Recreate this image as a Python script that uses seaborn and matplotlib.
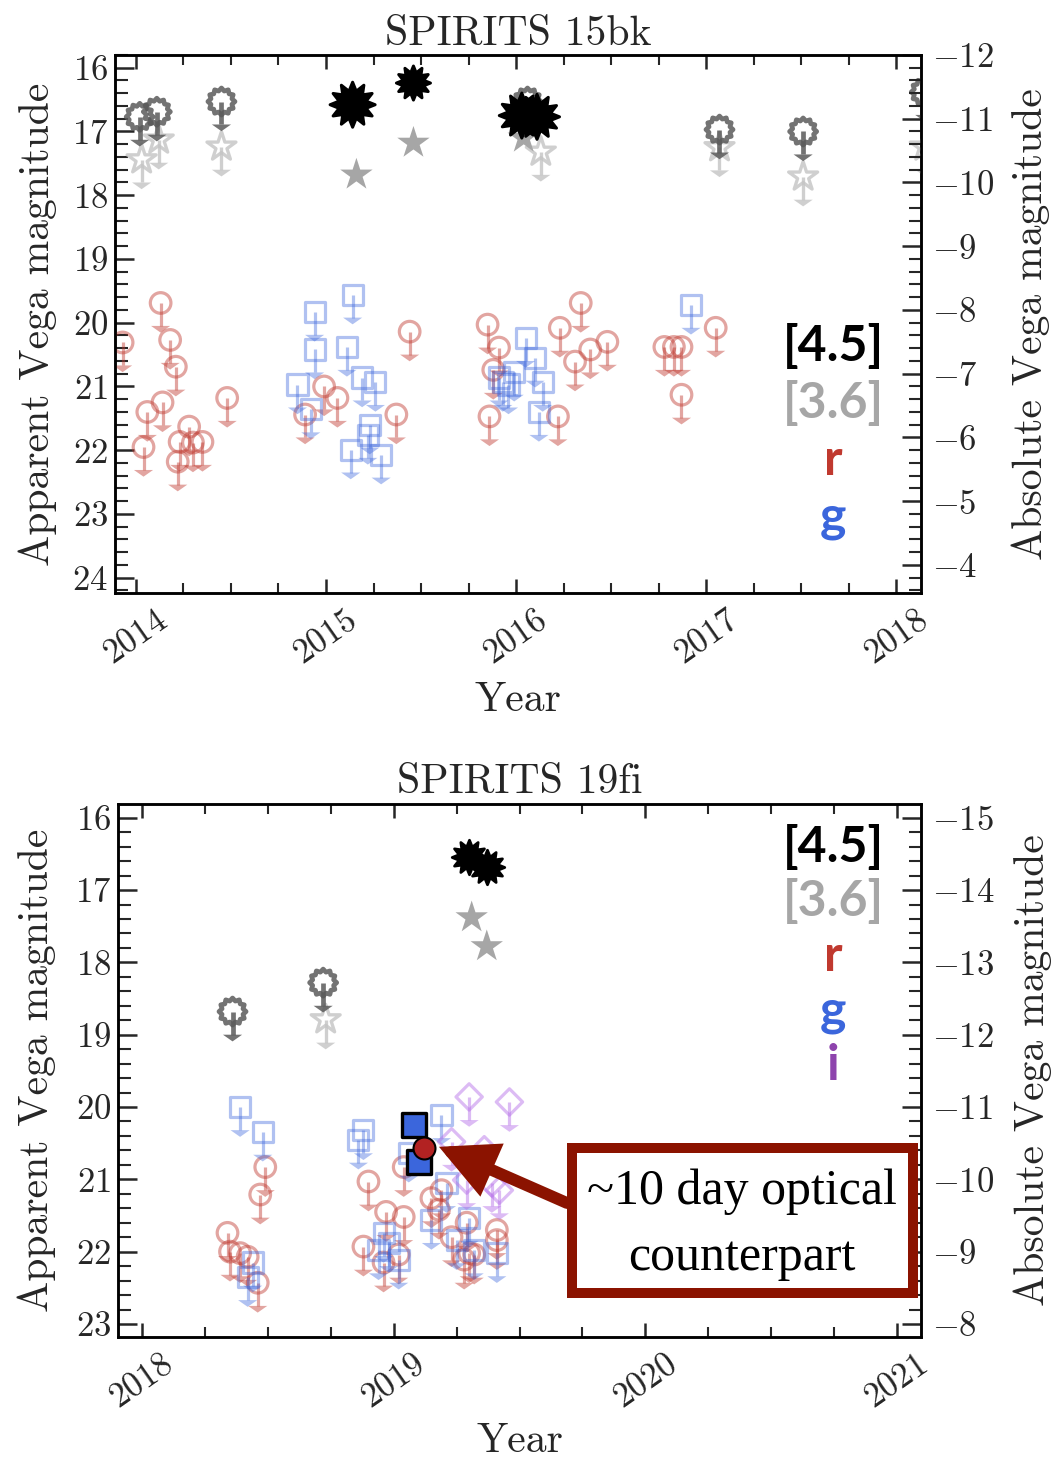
import numpy as np
import matplotlib
matplotlib.use("Agg")
import matplotlib.pyplot as plt
import seaborn as sns
from matplotlib.path import Path
from matplotlib.patches import Rectangle
from matplotlib.ticker import MultipleLocator

# ---------------- DATA ----------------
# SPIRITS 15bk (top panel)
top_title = "SPIRITS 15bk"
top_dm = 27.8
top_ch2_det_x = [2015.14, 2015.46, 2016.03, 2016.11]
top_ch2_det_y = [16.58, 16.24, 16.75, 16.77]
top_ch2_lim_x = [2014.02, 2014.11, 2014.45, 2016.06, 2017.07, 2017.51, 2018.15]
top_ch2_lim_y = [16.77, 16.69, 16.53, 16.53, 16.97, 17.00, 16.38]
top_ch1_det_x = [2015.16, 2015.46, 2016.04]
top_ch1_det_y = [17.68, 17.18, 17.10]
top_ch1_lim_x = [2014.03, 2014.12, 2014.45, 2016.13, 2017.07, 2017.51, 2018.15]
top_ch1_lim_y = [17.44, 17.13, 17.24, 17.32, 17.25, 17.71, 17.24]
top_r_lim_x = [2013.93, 2014.13, 2014.18, 2014.21, 2014.14, 2014.06, 2014.04, 2014.28,
               2014.23, 2014.30, 2014.35, 2014.22, 2014.48, 2014.99, 2015.06, 2014.89,
               2015.44, 2015.37, 2015.85, 2015.91, 2015.88, 2015.86, 2016.23, 2016.34,
               2016.31, 2016.39, 2016.48, 2016.22, 2016.78, 2016.83, 2016.87, 2016.87,
               2017.05]
top_r_lim_y = [20.31, 19.69, 20.27, 20.69, 21.25, 21.40, 21.95, 21.63,
               21.87, 21.88, 21.87, 22.18, 21.18, 21.00, 21.18, 21.44,
               20.14, 21.44, 20.03, 20.39, 20.74, 21.47, 20.08, 19.69,
               20.61, 20.42, 20.30, 21.47, 20.38, 20.38, 20.38, 21.13,
               20.08]
top_g_lim_x = [2014.94, 2015.14, 2014.94, 2015.11, 2014.85, 2014.92, 2015.19, 2015.26,
               2015.23, 2015.22, 2015.13, 2015.29, 2016.05, 2016.10, 2015.93, 2015.99,
               2015.96, 2015.91, 2016.14, 2016.12, 2016.92]
top_g_lim_y = [19.83, 19.56, 20.42, 20.38, 20.97, 21.36, 20.86, 20.93,
               21.60, 21.76, 21.99, 22.07, 20.24, 20.55, 20.93, 20.77,
               20.97, 20.86, 20.93, 21.40, 19.72]
top_xticks = [2014, 2015, 2016, 2017, 2018]

# SPIRITS 19fi (bottom panel)
bot_title = "SPIRITS 19fi"
bot_dm = 31.0
bot_ch2_det_x = [2019.30, 2019.37]
bot_ch2_det_y = [16.54, 16.68]
bot_ch1_det_x = [2019.31, 2019.37]
bot_ch1_det_y = [17.38, 17.78]
bot_ch2_lim_x = [2018.36, 2018.72]
bot_ch2_lim_y = [18.68, 18.28]
bot_ch1_lim_x = [2018.73]
bot_ch1_lim_y = [18.79]
bot_g_lim_x = [2018.39, 2018.48, 2018.88, 2018.86, 2019.06, 2019.19, 2018.44, 2018.42,
               2018.96, 2018.98, 2019.02, 2018.94, 2019.15, 2019.21, 2019.30, 2019.32,
               2019.41, 2019.25]
bot_g_lim_y = [20.00, 20.34, 20.32, 20.45, 20.63, 20.11, 22.15, 22.35,
               21.74, 21.88, 22.11, 21.98, 21.56, 21.05, 21.53, 21.98,
               22.02, 21.84]
bot_r_lim_x = [2018.49, 2018.47, 2018.34, 2018.35, 2018.39, 2018.42, 2018.46, 2018.90,
               2018.88, 2018.97, 2019.04, 2018.96, 2019.02, 2019.15, 2019.19, 2019.18,
               2019.23, 2019.29, 2019.28, 2019.30, 2019.32, 2019.41, 2019.41, 2019.04]
bot_r_lim_y = [20.83, 21.21, 21.74, 22.00, 22.02, 22.07, 22.43, 21.03,
               21.93, 21.45, 21.52, 22.15, 22.04, 21.26, 21.15, 21.42,
               21.80, 21.60, 22.11, 22.02, 22.04, 21.70, 21.84, 20.83]
bot_i_lim_x = [2019.30, 2019.46, 2019.23, 2019.36, 2019.29, 2019.39, 2019.42]
bot_i_lim_y = [19.86, 19.93, 20.48, 20.59, 21.01, 21.05, 21.15]
bot_g_det_x = [2019.08, 2019.10]
bot_g_det_y = [20.25, 20.76]
bot_r_det_x = [2019.12]
bot_r_det_y = [20.56]
bot_xticks = [2018, 2019, 2020, 2021]

band_labels_top = ["[4.5]", "[3.6]", "r", "g"]
band_labels_bot = ["[4.5]", "[3.6]", "r", "g", "i"]
annot_text = ["~10 day optical", "counterpart"]

# ---------------- STYLE ----------------
sns.set_style("ticks")
plt.rcParams.update({
    "font.family": "serif",
    "font.serif": ["cmr10"],
    "mathtext.fontset": "cm",
    "axes.formatter.use_mathtext": True,
    "axes.unicode_minus": True,
    "axes.linewidth": 1.8,
    "axes.edgecolor": "black",
})

C_R = "#c0392f"
C_G = "#3b66dc"
C_I = "#8e44ad"
C_I_LIM = "#b36ae8"
C_CH1 = "#a6a6a6"
C_CH1_LIM = "#c4c4c4"
C_CH2_LIM = "#5a5a5a"
DARKRED = "#8b1300"
band_colors = {"[4.5]": "black", "[3.6]": "#a6a6a6", "r": C_R, "g": C_G, "i": C_I}

STARBURST = Path.unit_regular_star(12, 0.62)
GEAR = Path.unit_regular_star(12, 0.80)
HEAD = Path([(-1, 0), (1, 0), (0, -0.7), (-1, 0)],
            [Path.MOVETO, Path.LINETO, Path.LINETO, Path.CLOSEPOLY])

W, H = 1058, 1467
fig = plt.figure(figsize=(W / 100, H / 100), dpi=100)


def fig_rect(l, t, r, b):
    return [l / W, 1 - b / H, (r - l) / W, (b - t) / H]


def draw_limits(ax, x, y, color, marker, s, lw, alpha, L, z):
    x = np.asarray(x, float)
    y = np.asarray(y, float)
    ax.vlines(x, y, y + L, colors=color, lw=lw, alpha=alpha, zorder=z)
    sns.scatterplot(x=x, y=y + L, ax=ax, marker=HEAD, s=190, color=color,
                    edgecolor="none", linewidth=0, alpha=alpha, zorder=z, legend=False)
    sns.scatterplot(x=x, y=y, ax=ax, marker=marker, s=s, color=color,
                    facecolor="none", edgecolor=color, linewidth=lw, alpha=alpha,
                    zorder=z, legend=False)


def style_axes(ax, xlim, ylim, dm, xticks, title, title_pad):
    ax.set_xlim(*xlim)
    ax.set_ylim(*ylim)
    ax.set_xticks(xticks)
    ax.set_xticklabels([str(t) for t in xticks], rotation=35, ha="center", fontsize=25)
    ax.xaxis.set_minor_locator(MultipleLocator(0.25))
    ax.yaxis.set_major_locator(MultipleLocator(1))
    ax.yaxis.set_minor_locator(MultipleLocator(0.2))
    ax.tick_params(axis="x", which="major", direction="in", length=10, width=1.8,
                   top=True, bottom=True, pad=8)
    ax.tick_params(axis="x", which="minor", direction="in", length=7, width=1.5,
                   top=True, bottom=True)
    ax.tick_params(axis="y", which="major", direction="in", length=14, width=1.8,
                   left=True, right=False, labelsize=25, pad=5)
    ax.tick_params(axis="y", which="minor", direction="in", length=9, width=1.5,
                   left=True, right=False)
    ax.set_title(title, fontsize=30, pad=title_pad)
    ax2 = ax.twinx()
    ax2.set_ylim(ylim[0] - dm, ylim[1] - dm)
    ax2.yaxis.set_major_locator(MultipleLocator(1))
    ax2.yaxis.set_minor_locator(MultipleLocator(0.2))
    ax2.tick_params(axis="y", which="major", direction="in", length=14, width=1.8,
                    labelsize=25, pad=8)
    ax2.tick_params(axis="y", which="minor", direction="in", length=9, width=1.5)
    for sp in ax2.spines.values():
        sp.set_linewidth(1.8)
    return ax2


# ---------------- TOP PANEL ----------------
ax = fig.add_axes(fig_rect(115, 55, 921, 593))
ax.set_zorder(2)
ax.patch.set_visible(False)
Lt = 0.36
draw_limits(ax, top_r_lim_x, top_r_lim_y, C_R, "o", 220, 2.3, 0.45, Lt, 3)
draw_limits(ax, top_g_lim_x, top_g_lim_y, C_G, "s", 210, 2.3, 0.4, Lt, 3)
draw_limits(ax, top_ch1_lim_x, top_ch1_lim_y, C_CH1_LIM, "*", 480, 2.4, 0.8, Lt, 4)
draw_limits(ax, top_ch2_lim_x, top_ch2_lim_y, C_CH2_LIM, GEAR, 380, 3.4, 0.85, Lt, 4)
sns.scatterplot(x=top_ch1_det_x, y=top_ch1_det_y, ax=ax, marker="*", s=600,
                color=C_CH1, edgecolor="none", zorder=5, legend=False)
sns.scatterplot(x=top_ch2_det_x, y=top_ch2_det_y, ax=ax, marker=STARBURST,
                s=[1050, 600, 1050, 1050], color="black", edgecolor="black",
                zorder=6, legend=False)
ax2 = style_axes(ax, (2013.89, 2018.13), (24.24, 15.80), top_dm, top_xticks, top_title, 7)
ax.set_xlabel("Year", fontsize=30)
ax.xaxis.set_label_coords(0.5, -0.165)
ax.set_ylabel("Apparent Vega magnitude", fontsize=30)
ax.yaxis.set_label_coords(-0.072, 0.5)
ax2.set_ylabel("Absolute Vega magnitude", fontsize=30)
ax2.yaxis.set_label_coords(1.112, 0.5)

for k, lab in enumerate(band_labels_top):
    fig.text(833 / W, 1 - (361 + 57 * k) / H, lab, ha="center", va="baseline",
             family=["Lato", "DejaVu Sans"], weight="bold", fontsize=36,
             color=band_colors[lab])

# ---------------- BOTTOM PANEL ----------------
bx = fig.add_axes(fig_rect(118, 804, 921, 1337))
bx.set_zorder(2)
bx.patch.set_visible(False)
Lb = 0.32
draw_limits(bx, bot_r_lim_x, bot_r_lim_y, C_R, "o", 220, 2.3, 0.45, Lb, 3)
draw_limits(bx, bot_g_lim_x, bot_g_lim_y, C_G, "s", 210, 2.3, 0.4, Lb, 3)
draw_limits(bx, bot_i_lim_x, bot_i_lim_y, C_I_LIM, "D", 180, 2.3, 0.45, Lb, 3)
draw_limits(bx, bot_ch1_lim_x, bot_ch1_lim_y, C_CH1_LIM, "*", 480, 2.4, 0.8, Lb, 4)
draw_limits(bx, bot_ch2_lim_x, bot_ch2_lim_y, C_CH2_LIM, GEAR, 380, 3.4, 0.85, Lb, 4)
sns.scatterplot(x=bot_ch1_det_x, y=bot_ch1_det_y, ax=bx, marker="*", s=600,
                color=C_CH1, edgecolor="none", zorder=5, legend=False)
sns.scatterplot(x=bot_ch2_det_x, y=bot_ch2_det_y, ax=bx, marker=STARBURST,
                s=620, color="black", edgecolor="black", zorder=6, legend=False)
sns.scatterplot(x=bot_g_det_x, y=bot_g_det_y, ax=bx, marker="s", s=280,
                color=C_G, edgecolor="black", linewidth=2.4, zorder=7, legend=False)
sns.scatterplot(x=bot_r_det_x, y=bot_r_det_y, ax=bx, marker="o", s=250,
                color="#b22222", edgecolor="black", linewidth=1.5, zorder=8, legend=False)
bx2 = style_axes(bx, (2017.905, 2021.095), (23.18, 15.81), bot_dm, bot_xticks, bot_title, 8)
bx.set_xlabel("Year", fontsize=30)
bx.xaxis.set_label_coords(0.5, -0.16)
bx.set_ylabel("Apparent Vega magnitude", fontsize=30)
bx.yaxis.set_label_coords(-0.077, 0.5)
bx2.set_ylabel("Absolute Vega magnitude", fontsize=30)
bx2.yaxis.set_label_coords(1.115, 0.5)

for k, lab in enumerate(band_labels_bot):
    fig.text(833 / W, 1 - (862 + 54.5 * k) / H, lab, ha="center", va="baseline",
             family=["Lato", "DejaVu Sans"], weight="bold", fontsize=36,
             color=band_colors[lab])

# annotation arrow and box
bx.annotate("", xy=(2019.18, 20.55), xycoords="data",
            xytext=(567 / W, 1 - 1203 / H), textcoords="figure fraction",
            arrowprops=dict(arrowstyle="-|>,head_length=1.4,head_width=0.7",
                            color=DARKRED, lw=8.5, shrinkA=0, shrinkB=0,
                            mutation_scale=20, joinstyle="miter"),
            zorder=9)
box = Rectangle((572 / W, 1 - 1293 / H), (913 - 572) / W, (1293 - 1148) / H,
                transform=fig.transFigure, facecolor="white", edgecolor=DARKRED,
                linewidth=7.2, zorder=10)
fig.add_artist(box)
for k, line in enumerate(annot_text):
    t = fig.text(742 / W, 1 - (1192 + 66 * k) / H, line, ha="center", va="center",
                 family=["Liberation Serif", "DejaVu Serif"], fontsize=36, color="black")
    t.set_zorder(11)

fig.savefig("out.png", dpi=100)
